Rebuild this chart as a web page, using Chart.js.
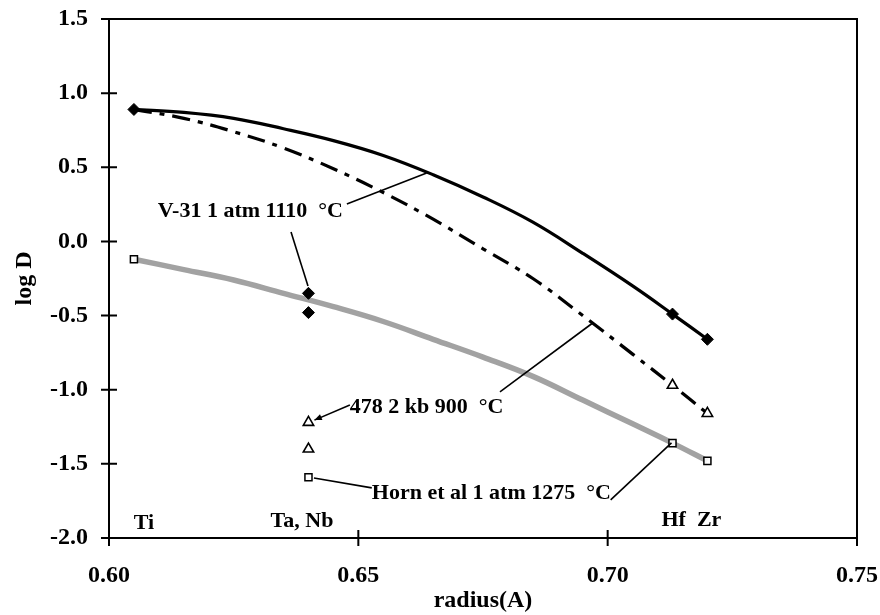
<!DOCTYPE html>
<html>
<head>
<meta charset="utf-8">
<script src="https://cdn.jsdelivr.net/npm/chart.js@4/dist/chart.umd.min.js"></script>
<style>
  html, body { margin: 0; padding: 0; background: #fff; }
  #wrap { width: 880px; height: 615px; }
</style>
</head>
<body>
<div id="wrap"><canvas id="myChart" width="880" height="615"></canvas></div>
<script>
// data
const radius = [0.605, 0.615, 0.625, 0.635, 0.645, 0.655, 0.665, 0.675, 0.685, 0.695, 0.705, 0.713, 0.72];
const v31Fit  = [0.89, 0.87, 0.83, 0.76, 0.68, 0.58, 0.45, 0.30, 0.13, -0.08, -0.30, -0.49, -0.66];
const r478Fit = [0.89, 0.83, 0.74, 0.63, 0.49, 0.33, 0.15, -0.05, -0.25, -0.50, -0.76, -0.97, -1.16];
const hornFit = [-0.12, -0.19, -0.26, -0.35, -0.44, -0.54, -0.66, -0.78, -0.91, -1.07, -1.23, -1.36, -1.48];

// measured partition coefficients
const v31R  = [0.605, 0.64, 0.64, 0.713, 0.72];
const v31D  = [0.89, -0.35, -0.48, -0.49, -0.66];
const r478R = [0.64, 0.64, 0.713, 0.72];
const r478D = [-1.22, -1.40, -0.97, -1.16];
const hornR = [0.605, 0.64, 0.713, 0.72];
const hornD = [-0.12, -1.59, -1.36, -1.48];

const xTicks = [0.60, 0.65, 0.70, 0.75];
const yTicks = [-2.0, -1.5, -1.0, -0.5, 0.0, 0.5, 1.0, 1.5];

const pts = (xs, ys) => xs.map((x, i) => ({ x: x, y: ys[i] }));

// text and leader lines, in data units
const labels = [
  { text: 'V-31 1 atm 1110  \u00B0C', x: 0.6098, y: 0.20, align: 'left', size: 22 },
  { text: '478 2 kb 900  \u00B0C', x: 0.6483, y: -1.116, align: 'left', size: 22 },
  { text: 'Horn et al 1 atm 1275  \u00B0C', x: 0.6527, y: -1.696, align: 'left', size: 22 },
  { text: 'Ti', x: 0.607, y: -1.90, align: 'center', size: 22 },
  { text: 'Ta, Nb', x: 0.6387, y: -1.89, align: 'center', size: 22 },
  { text: 'Hf  Zr', x: 0.7168, y: -1.88, align: 'center', size: 22 }
];
const leaders = [
  [0.6477, 0.253, 0.6637, 0.462],
  [0.6365, 0.064, 0.6399, -0.30],
  [0.6784, -1.015, 0.697, -0.55],
  [0.6483, -1.103, 0.6412, -1.205, true],
  [0.6411, -1.595, 0.6527, -1.662],
  [0.7006, -1.743, 0.7128, -1.359]
];

const serif = 'Liberation Serif, Times New Roman, serif';

const framePlugin = {
  id: 'frame',
  afterDraw(chart) {
    const { ctx, chartArea: a, scales } = chart;
    ctx.save();
    ctx.strokeStyle = '#000';
    ctx.lineWidth = 2;
    ctx.strokeRect(a.left, a.top, a.right - a.left, a.bottom - a.top);
    // ticks cross the axes
    ctx.beginPath();
    yTicks.forEach(v => {
      const p = scales.y.getPixelForValue(v);
      ctx.moveTo(a.left - 8, p); ctx.lineTo(a.left + 8, p);
    });
    xTicks.forEach(v => {
      const p = scales.x.getPixelForValue(v);
      ctx.moveTo(p, a.bottom - 8); ctx.lineTo(p, a.bottom + 8);
    });
    ctx.stroke();
    ctx.restore();
  },
  afterDatasetsDraw(chart) {
    const { ctx, scales } = chart;
    const X = v => scales.x.getPixelForValue(v);
    const Y = v => scales.y.getPixelForValue(v);
    ctx.save();
    ctx.strokeStyle = '#000';
    ctx.lineWidth = 1.6;
    leaders.forEach(l => {
      const x1 = X(l[0]), y1 = Y(l[1]), x2 = X(l[2]), y2 = Y(l[3]);
      ctx.beginPath();
      ctx.moveTo(x1, y1); ctx.lineTo(x2, y2);
      ctx.stroke();
      if (l[4]) {
        const ang = Math.atan2(y2 - y1, x2 - x1);
        ctx.beginPath();
        ctx.moveTo(x2, y2);
        ctx.lineTo(x2 - 8 * Math.cos(ang - 0.4), y2 - 8 * Math.sin(ang - 0.4));
        ctx.lineTo(x2 - 8 * Math.cos(ang + 0.4), y2 - 8 * Math.sin(ang + 0.4));
        ctx.closePath();
        ctx.fillStyle = '#000';
        ctx.fill();
      }
    });
    ctx.fillStyle = '#000';
    ctx.textBaseline = 'middle';
    labels.forEach(t => {
      ctx.font = 'bold ' + t.size + 'px ' + serif;
      ctx.textAlign = t.align;
      ctx.fillText(t.text, X(t.x), Y(t.y));
    });
    ctx.restore();
  }
};

const ctx = document.getElementById('myChart').getContext('2d');

const myChart = new Chart(ctx, {
  type: 'scatter',
  data: {
    datasets: [
      {
        label: 'V-31 fit', data: pts(radius, v31Fit), showLine: true,
        borderColor: '#000', borderWidth: 3.2, pointRadius: 0, tension: 0.4, order: 2
      },
      {
        label: '478 fit', data: pts(radius, r478Fit), showLine: true,
        borderColor: '#000', borderWidth: 3.2, borderDash: [18, 8, 5, 8], pointRadius: 0, tension: 0.4, order: 3
      },
      {
        label: 'Horn fit', data: pts(radius, hornFit), showLine: true,
        borderColor: '#a2a2a2', borderWidth: 5.5, pointRadius: 0, tension: 0.4, order: 4
      },
      {
        label: 'V-31', data: pts(v31R, v31D), showLine: false,
        pointStyle: 'rectRot', pointRadius: 6, backgroundColor: '#000', borderColor: '#000', borderWidth: 1, order: 0
      },
      {
        label: '478', data: pts(r478R, r478D), showLine: false,
        pointStyle: 'triangle', pointRadius: 6, backgroundColor: '#fff', borderColor: '#000', borderWidth: 1.6, order: 1
      },
      {
        label: 'Horn', data: pts(hornR, hornD), showLine: false,
        pointStyle: 'rect', pointRadius: 5, backgroundColor: 'rgba(255,255,255,0.9)', borderColor: '#000', borderWidth: 1.5, order: 1
      }
    ]
  },
  options: {
    responsive: false,
    animation: false,
    layout: { padding: { left: 0, right: 23, top: 19, bottom: 0 } },
    plugins: {
      legend: { display: false },
      tooltip: { enabled: false }
    },
    scales: {
      x: {
        type: 'linear', min: 0.60, max: 0.75,
        afterBuildTicks: s => { s.ticks = xTicks.map(v => ({ value: v })); },
        afterFit: s => { s.height = 77; s.paddingLeft = 0; s.paddingRight = 0; },
        grid: { display: false, drawTicks: true, tickLength: 8 },
        border: { display: false },
        ticks: {
          color: '#000', padding: 15,
          font: { family: serif, size: 24, weight: 'bold' },
          callback: v => v.toFixed(2)
        },
        title: {
          display: true, text: 'radius(A)', color: '#000', padding: { top: 0, bottom: 0 },
          font: { family: serif, size: 24, weight: 'bold' }
        }
      },
      y: {
        type: 'linear', min: -2.0, max: 1.5,
        afterBuildTicks: s => { s.ticks = yTicks.map(v => ({ value: v })); },
        afterFit: s => { s.width = 109; s.paddingTop = 0; s.paddingBottom = 0; },
        grid: { display: false, drawTicks: true, tickLength: 8 },
        border: { display: false },
        ticks: {
          color: '#000', padding: 13,
          font: { family: serif, size: 24, weight: 'bold' },
          callback: v => v.toFixed(1)
        },
        title: {
          display: true, text: 'log D', color: '#000', padding: { top: 10, bottom: 0 },
          font: { family: serif, size: 24, weight: 'bold' }
        }
      }
    }
  },
  plugins: [framePlugin]
});
</script>
</body>
</html>
